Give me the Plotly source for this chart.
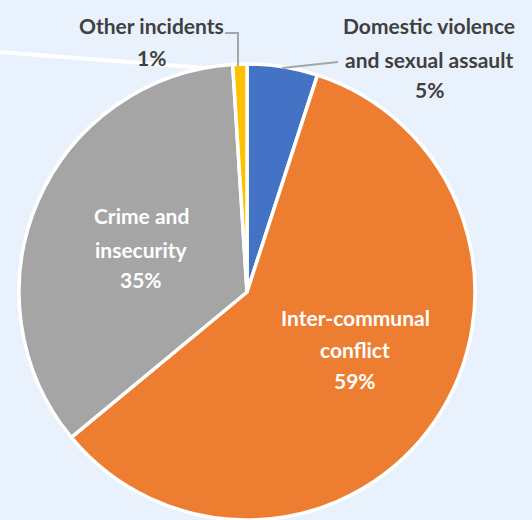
import plotly.graph_objects as go

W, H = 532, 520

# ---- data ----
categories = ["Domestic violence and sexual assault", "Inter-communal conflict",
              "Crime and insecurity", "Other incidents"]
values = [5, 59, 35, 1]
colors = ["#4472C4", "#ED7D31", "#A5A5A5", "#FFC000"]
label_lines = [["Domestic violence", "and sexual assault"],
               ["Inter-communal", "conflict"],
               ["Crime and", "insecurity"],
               ["Other incidents"]]

BG = "#E9F2FC"
FONT = "Lato, Liberation Sans, sans-serif"
FS = 21

fig = go.Figure(go.Pie(
    labels=categories, values=values, sort=False, direction="clockwise",
    rotation=0, textinfo="none", hoverinfo="label+percent",
    marker=dict(colors=colors, line=dict(color="white", width=3.5)),
    domain=dict(x=[18 / W, 476 / W], y=[0, 456 / H]),
    showlegend=False,
))

def px(x):
    return x / W

def py(y):
    return 1 - y / H

# label layout: (x centre, baselines for each line) in pixels
label_pos = [
    (429, [33, 67, 97], "#404040"),
    (355, [325, 357, 388], "white"),
    (141, [223, 257, 287], "white"),
    (151, [33, 65], "#404040"),
]
total = sum(values)
annotations = []
for lines, v, (cx, bases, col) in zip(label_lines, values, label_pos):
    texts = lines + [f"{round(100 * v / total)}%"]
    for t, b in zip(texts, bases):
        annotations.append(dict(
            text=f"<b>{t}</b>", x=px(cx), y=py(b - 7.5), xref="paper", yref="paper",
            xanchor="center", yanchor="middle", showarrow=False,
            font=dict(family=FONT, size=FS, color=col)))

shapes = [
    # stray white line at top-left
    dict(type="line", xref="paper", yref="paper", x0=px(0), y0=py(52), x1=px(218), y1=py(69),
         line=dict(color="white", width=4), layer="below"),
    # leader lines
    dict(type="path", xref="paper", yref="paper",
         path=f"M {px(225)} {py(33)} L {px(238)} {py(33)} L {px(238)} {py(66)}",
         line=dict(color="#A6A6A6", width=2)),
    dict(type="line", xref="paper", yref="paper", x0=px(282), y0=py(68), x1=px(338), y1=py(62),
         line=dict(color="#A6A6A6", width=2)),
]

fig.update_layout(
    width=W, height=H, margin=dict(l=0, r=0, t=0, b=0),
    paper_bgcolor=BG, plot_bgcolor=BG,
    annotations=annotations, shapes=shapes,
)

fig.write_html("out.html", config={"displayModeBar": False},
               post_script="document.body.style.margin='0';document.body.style.background='" + BG + "';")
